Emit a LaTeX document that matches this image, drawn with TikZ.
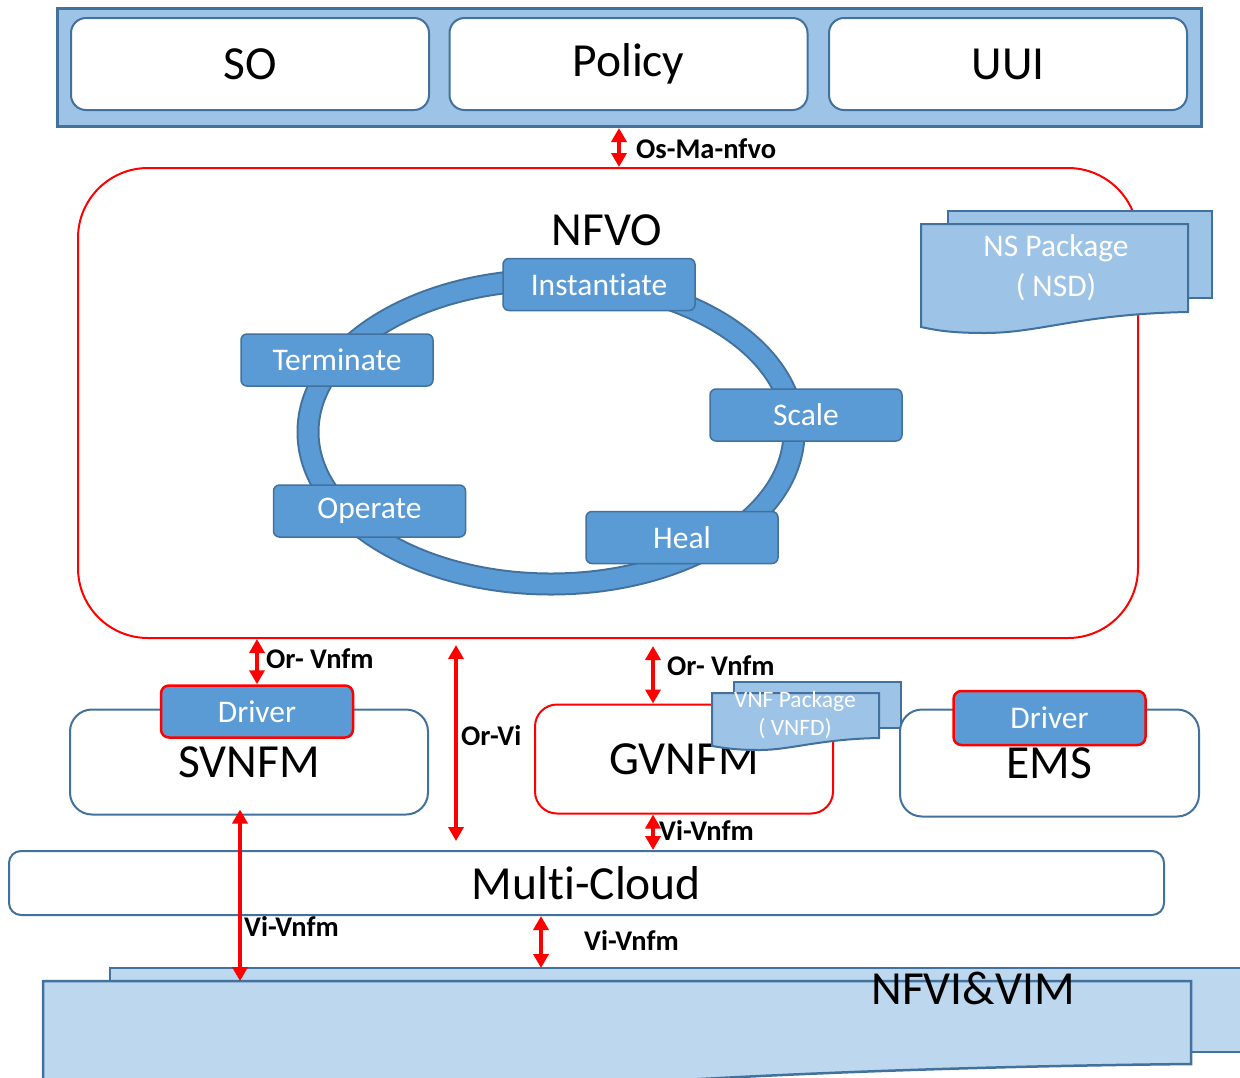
\documentclass[tikz,border=0pt]{standalone}
\usepackage{fontspec}
\setmainfont{Carlito}[Ligatures=NoCommon]
\usetikzlibrary{positioning,arrows.meta,calc}

\definecolor{boxblue}{HTML}{5B9BD5}
\definecolor{edgeblue}{HTML}{41719C}
\definecolor{pkgblue}{HTML}{9DC3E6}
\definecolor{infblue}{HTML}{BDD7EE}
\newcommand\bigtxt{\fontsize{47.5}{52}\selectfont}
\newcommand\midtxt{\fontsize{31.5}{40}\selectfont}
\newcommand\smtxt{\fontsize{23.5}{28}\selectfont}
\newcommand\lbltxt{\fontsize{28.5}{30}\selectfont\bfseries}

\begin{document}
\begin{tikzpicture}[x=1pt,y=-1pt,
	pane/.style={draw=edgeblue,line width=2pt,fill=white,rounded corners=15pt,font=\bigtxt},
	lcbox/.style={draw=edgeblue,line width=1.5pt,fill=boxblue,rounded corners=6pt,minimum width=192pt,minimum height=52pt,text=white,font=\midtxt},
	drvbox/.style={draw=red,line width=2.5pt,fill=boxblue,rounded corners=8pt,minimum width=192pt,minimum height=52pt,text=white,font=\midtxt},
	pkg/.style={draw=edgeblue,fill=pkgblue,line width=2pt},
	iface/.style={{Triangle[width=15pt,length=14pt]}-{Triangle[width=15pt,length=14pt]},red,line width=4pt},
	lbl/.style={anchor=west,font=\lbltxt,inner sep=0pt}]
		\useasboundingbox (0,0) rectangle (1240,1077);
		\clip (0,0) rectangle (1240,1077);
		\def\rx{243pt}
		\def\ry{152pt}
		%top layer
		\node[draw=edgeblue,fill=pkgblue,line width=3pt,minimum width=1144pt,minimum height=118pt] (top) at (629,67.5) {};
		\node[pane,minimum width=358pt,minimum height=92pt] (so) at (250,64) {SO};
		\node[pane,minimum width=358pt,minimum height=92pt] (policy) at (628.5,64) {Policy};
		\node[pane,minimum width=358pt,minimum height=92pt] (uui) at (1008,64) {UUI};
		%NFVO and lifecycle ring
		\node[draw=red,line width=2pt,rounded corners=70pt,minimum width=1060pt,minimum height=470pt] (nfvo) at (608,403) {};
		\node[font=\bigtxt] (nfvotxt) at (607,230) {NFVO};
		\draw[edgeblue,line width=23pt] (551,432) ellipse [x radius=\rx,y radius=\ry];
		\draw[boxblue,line width=19pt] (551,432) ellipse [x radius=\rx,y radius=\ry];
		\node[lcbox] (inst) at (599,284.5) {Instantiate};
		\node[lcbox] (term) at (337,360) {Terminate};
		\node[lcbox] (scale) at (806,415) {Scale};
		\node[lcbox] (oper) at (369.5,511) {Operate};
		\node[lcbox] (heal) at (682,537.5) {Heal};
		%NS package
		\draw[pkg] (948,211) rectangle (1212,298);
		\draw[pkg] (921,224) -- (1188,224) -- (1188,312) .. controls (1080,314) and (1040,333) .. (985,333) .. controls (950,333) and (935,330) .. (921,327) -- cycle;
		\node[text=white,font=\midtxt,align=center] (nsd) at (1056,268) {NS Package\\( NSD)};
		%VNFMs and EMS
		\node[pane,rounded corners=22pt,minimum width=358pt,minimum height=105pt] (sv) at (249,762) {SVNFM};
		\node[drvbox] (drvS) at (257,711.5) {Driver};
		\node[pane,draw=red,rounded corners=22pt,minimum width=298pt,minimum height=109pt] (gv) at (684,759) {GVNFM};
		\draw[pkg] (734,682) rectangle (901,728);
		\draw[pkg] (712,693) -- (879,693) -- (879,738) .. controls (820,739) and (790,750) .. (760,750) .. controls (735,750) and (725,748) .. (712,746) -- cycle;
		\node[text=white,font=\smtxt,align=center] (vnfd) at (795,715) {VNF Package\\( VNFD)};
		\node[pane,rounded corners=22pt,minimum width=299pt,minimum height=107pt] (ems) at (1049.5,763) {EMS};
		\node[drvbox,minimum height=54pt] (drvE) at (1049.5,718) {Driver};
		%infrastructure
		\draw[draw=edgeblue,fill=infblue,line width=2.5pt] (110,968) rectangle (1300,1052);
		\draw[draw=edgeblue,fill=infblue,line width=2.5pt] (43,981) -- (1191,981) -- (1191,1064) .. controls (1000,1066) and (800,1072) .. (600,1085) -- (43,1100) -- cycle;
		\node[font=\bigtxt] (nfvi) at (973,988) {NFVI\&VIM};
		\coordinate (nfviTop) at (0,981);
		\coordinate (nfviBack) at (0,968);
		\node[pane,rounded corners=12pt,minimum width=1155pt,minimum height=64pt] (mc) at (586.5,883) {Multi-Cloud};
		%reference points
		\coordinate (xosma) at (619,0);
		\coordinate (xorvi) at (456,0);
		\coordinate (xorv) at (653,0);
		\coordinate (xvil) at (240,0);
		\coordinate (xvim) at (541,0);
		%interfaces
		\draw[iface] (top.south -| xosma) -- (nfvo.north -| xosma);
		\draw[iface] (nfvo.south -| drvS) -- (drvS.north);
		\draw[iface,shorten <=6pt,shorten >=9pt] (nfvo.south -| xorvi) -- (mc.north -| xorvi);
		\draw[iface,shorten <=7pt] (nfvo.south -| xorv) -- (gv.north -| xorv);
		\draw[iface] (gv.south -| xorv) -- (mc.north -| xorv);
		\draw[iface,shorten <=-6pt] (sv.south -| xvil) -- (nfviTop -| xvil);
		\draw[iface] (mc.south -| xvim) -- (nfviBack -| xvim);
		\node[lbl] (lOsma) at (636,149) {Os-Ma-nfvo};
		\node[lbl] (lOrvS) at (266,659) {Or- Vnfm};
		\node[lbl] (lOrvi) at (461,736) {Or-Vi};
		\node[lbl] (lOrvG) at (667,666) {Or- Vnfm};
		\node[lbl] (lVivG) at (659,830) {Vi-Vnfm};
		\node[lbl] (lVivS) at (244,926) {Vi-Vnfm};
		\node[lbl] (lVivM) at (584,940) {Vi-Vnfm};
	\end{tikzpicture}
\end{document}
